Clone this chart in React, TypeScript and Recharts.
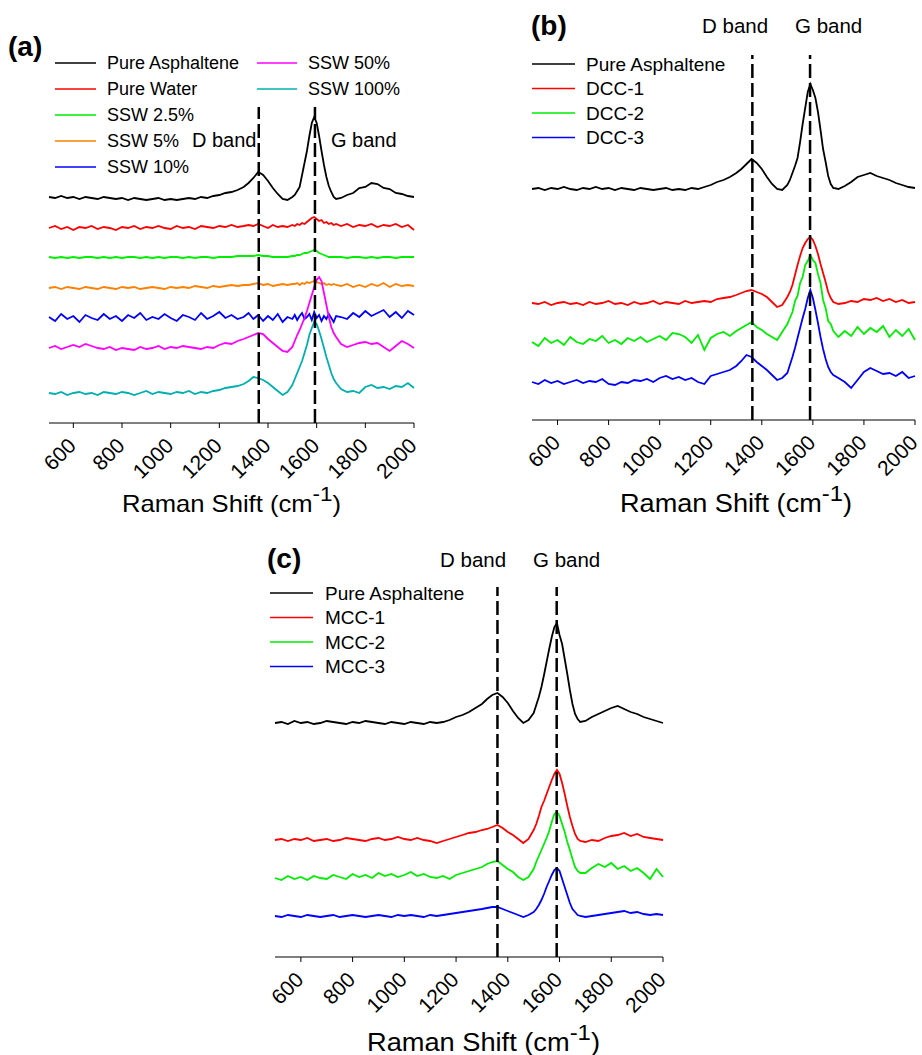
import React from 'react';
import { LineChart, Line, XAxis, YAxis, ReferenceLine } from 'recharts';

const FONT = '"Liberation Sans", Arial, Helvetica, sans-serif';

// Raman shift grid (cm-1): coarse on the flat part, finer over the D and G bands
const ramanShift = [
  500, 525, 550, 575, 600, 625, 650, 675, 700, 725, 750, 775, 800, 825, 850, 875, 900, 925, 950, 975,
  1000, 1025, 1050, 1075, 1100, 1125, 1150, 1175, 1200, 1225, 1250, 1275, 1300,
  1320, 1340, 1360, 1380, 1400, 1420, 1440, 1460, 1480, 1500,
  1510, 1520, 1530, 1540, 1550, 1560, 1570, 1580, 1590, 1600, 1610, 1620, 1630, 1640, 1650, 1660, 1670, 1680,
  1700, 1725, 1750, 1775, 1800, 1825, 1850, 1875, 1900, 1925, 1950, 1975, 2000,
];
const shiftTicks = [600, 800, 1000, 1200, 1400, 1600, 1800, 2000];

// ---- panel (a): stacked intensities (a.u.)
const asphaltA = [
  226, 225, 227, 225, 226, 224, 226, 225, 224, 226, 225, 224, 225, 223, 225, 224, 223, 224, 225, 223, 224, 223, 224, 225, 224, 226, 225, 227, 228, 230, 231, 233, 236,
  240, 245, 251, 248, 242, 235, 229, 224, 223, 226,
  228, 232, 236, 248, 260, 272, 287, 300, 306, 300, 287, 272, 258, 246, 237, 231, 226, 224,
  225, 228, 230, 235, 236, 240, 239, 235, 234, 230, 229, 227, 226,
];
const waterA = [
  195, 197, 194, 196, 193, 196, 195, 197, 194, 196, 195, 193, 196, 195, 197, 194, 196, 195, 197, 195, 194, 197, 195, 196, 194, 197, 196, 195, 197, 196, 198, 196, 197,
  198, 197, 199, 197, 195, 198, 196, 197, 196, 198,
  197, 199, 198, 200, 199, 201, 203, 205, 206, 204, 202, 203, 200, 201, 199, 200, 198, 199,
  197, 199, 196, 198, 197, 199, 196, 198, 197, 199, 196, 198, 193,
];
const ssw2_5 = [
  166, 165, 166, 165, 166, 165, 166, 166, 165, 166, 165, 166, 165, 166, 166, 165, 166, 165, 166, 165, 166, 166, 165, 166, 165, 166, 166, 165, 166, 166, 166, 167, 167,
  167, 167, 168, 167, 167, 166, 166, 166, 166, 167,
  167, 168, 168, 169, 170, 170, 171, 172, 173, 172, 170, 169, 168, 167, 166, 166, 166, 166,
  166, 165, 166, 166, 165, 166, 165, 166, 166, 165, 166, 166, 166,
];
const ssw5 = [
  135, 136, 134, 136, 135, 134, 136, 135, 134, 136, 135, 134, 136, 135, 136, 134, 135, 136, 135, 134, 136, 135, 136, 135, 137, 136, 135, 137, 136, 137, 138, 137, 138,
  138, 139, 140, 138, 139, 137, 138, 139, 138, 139,
  139, 140, 138, 140, 139, 141, 140, 141, 142, 141, 140, 139, 140, 138, 139, 138, 139, 138,
  137, 139, 136, 138, 136, 139, 137, 140, 136, 139, 137, 138, 137,
];
const ssw10 = [
  106, 102, 109, 104, 107, 101, 108, 105, 103, 109, 104, 107, 102, 108, 105, 110, 103, 106, 104, 109, 105, 102, 108, 106, 103, 110, 104, 107, 111, 105, 108, 104, 106,
  110, 104, 108, 102, 107, 103, 109, 101, 106, 104,
  108, 103, 107, 110, 104, 106, 109, 103, 111, 105, 108, 102, 107, 104, 109, 105, 101, 107,
  106, 104, 110, 106, 112, 107, 110, 113, 106, 111, 105, 112, 108,
];
const ssw50 = [
  75, 77, 74, 76, 78, 76, 79, 77, 75, 74, 76, 73, 75, 74, 73, 76, 74, 75, 77, 74, 76, 75, 77, 76, 75, 74, 76, 75, 78, 80, 79, 82, 84,
  86, 88, 90, 89, 84, 80, 76, 72, 71, 76,
  82, 88, 93, 99, 105, 112, 120, 128, 136, 143, 146, 142, 130, 118, 106, 96, 90, 86,
  79, 76, 78, 80, 81, 79, 80, 76, 72, 77, 82, 79, 75,
];
const ssw100 = [
  30, 29, 31, 28, 30, 31, 29, 30, 28, 31, 30, 29, 31, 30, 28, 30, 32, 29, 31, 30, 29, 31, 30, 32, 29, 31, 30, 32, 33, 35, 36, 37, 39,
  42, 46, 45, 43, 40, 36, 32, 28, 31, 38,
  44, 50, 56, 62, 70, 78, 88, 95, 101, 99, 92, 84, 75, 66, 58, 50, 44, 40,
  34, 31, 32, 30, 36, 38, 35, 36, 34, 37, 36, 40, 35,
];

// ---- panel (b)
const asphaltB = [
  231, 232, 230, 232, 231, 233, 231, 230, 232, 231, 233, 231, 232, 230, 232, 231, 230, 232, 231, 230, 231, 232, 230, 231, 230, 232, 231, 233, 235, 238, 240, 243, 247,
  251, 256, 261, 257, 251, 243, 236, 231, 230, 235,
  240, 247, 254, 262, 278, 296, 312, 328, 336, 330, 322, 308, 290, 271, 258, 244, 236, 232,
  231, 234, 238, 243, 245, 247, 244, 242, 240, 237, 235, 233, 232,
];
const dcc1 = [
  117, 116, 118, 115, 117, 118, 116, 117, 115, 118, 116, 117, 119, 116, 117, 115, 118, 116, 117, 119, 116, 118, 117, 116, 119, 117, 118, 119, 118, 121, 122, 123, 125,
  127, 129, 130, 128, 126, 123, 118, 113, 115, 123,
  128, 135, 145, 155, 164, 172, 177, 181, 183, 180, 174, 166, 156, 147, 138, 128, 122, 118,
  116, 117, 119, 118, 121, 120, 122, 119, 121, 118, 120, 117, 118,
];
const dcc2 = [
  78, 74, 82, 77, 80, 75, 83, 78, 76, 81, 79, 84, 77, 80, 76, 82, 79, 83, 78, 81, 84, 80, 87, 86, 83, 77, 85, 70, 82, 86, 88, 84, 89,
  92, 95, 98, 93, 90, 86, 83, 80, 88, 96,
  102, 108, 119, 124, 137, 143, 155, 159, 165, 160, 157, 146, 137, 120, 112, 99, 96, 89,
  83, 89, 84, 93, 86, 92, 88, 94, 83, 90, 84, 91, 80,
];
const dcc3 = [
  38, 36, 40, 37, 39, 36, 38, 40, 37, 39, 38, 41, 36, 35, 38, 37, 40, 39, 41, 38, 42, 44, 41, 43, 40, 42, 38, 36, 44, 46, 48, 50, 54,
  59, 65, 63, 58, 54, 50, 45, 40, 42, 47,
  55, 63, 72, 82, 92, 102, 111, 122, 130, 122, 110, 97, 83, 71, 61, 53, 48, 45,
  42, 38, 32, 40, 48, 52, 49, 46, 47, 44, 48, 42, 44,
];

// ---- panel (c)
const asphaltC = [
  234, 235, 233, 236, 234, 235, 233, 234, 236, 235, 234, 233, 235, 234, 236, 235, 234, 233, 235, 234, 233, 235, 234, 233, 235, 234, 235, 237, 240, 242, 245, 249, 253,
  258, 262, 264, 260, 254, 246, 239, 234, 237, 244,
  252, 260, 270, 282, 295, 308, 320, 330, 334, 322, 313, 298, 283, 267, 253, 243, 238, 235,
  236, 240, 243, 246, 249, 251, 248, 245, 243, 240, 238, 236, 234,
];
const mcc1 = [
  117, 118, 116, 118, 117, 119, 116, 117, 118, 116, 117, 119, 118, 117, 116, 118, 119, 117, 118, 120, 118, 117, 119, 117, 116, 114, 116, 118, 120, 122, 124, 125, 127,
  128, 130, 132, 129, 125, 122, 118, 114, 118, 127,
  133, 141, 150, 156, 163, 170, 177, 183, 187, 183, 174, 163, 151, 140, 131, 123, 118, 116,
  115, 117, 116, 119, 121, 122, 124, 121, 123, 120, 119, 118, 117,
];
const mcc2 = [
  79, 77, 81, 78, 80, 77, 81, 79, 78, 82, 80, 78, 83, 80, 82, 79, 84, 81, 83, 80, 82, 85, 81, 83, 80, 79, 81, 78, 82, 84, 86, 88, 90,
  93, 95, 96, 92, 88, 85, 80, 77, 80, 88,
  95, 101, 107, 113, 119, 126, 135, 143, 145, 141, 133, 125, 115, 107, 98, 90, 86, 84,
  84, 89, 93, 90, 94, 88, 91, 86, 89, 84, 78, 88, 80,
];
const mcc3 = [
  41, 40, 42, 41, 40, 42, 41, 40, 41, 42, 40, 41, 42, 41, 40, 41, 42, 41, 40, 42, 41, 42, 41, 40, 42, 41, 42, 43, 44, 45, 46, 47, 48,
  49, 50, 50, 48, 46, 44, 42, 40, 42, 45,
  48, 52, 57, 63, 70, 76, 82, 87, 89, 86, 78, 70, 62, 54, 48, 45, 42, 41,
  40, 41, 42, 43, 44, 45, 46, 44, 45, 43, 42, 43, 42,
];

// band positions (cm-1) for panels a, b, c
const dBandShift = [1362, 1363, 1360];
const gBandShift = [1593, 1589, 1589];

type Series = { key: string; name: string; color: string; values: number[] };

const seriesA: Series[] = [
  { key: 'asph', name: 'Pure Asphaltene', color: '#000000', values: asphaltA },
  { key: 'water', name: 'Pure Water', color: '#ff0000', values: waterA },
  { key: 's25', name: 'SSW 2.5%', color: '#00ee00', values: ssw2_5 },
  { key: 's5', name: 'SSW 5%', color: '#ff8000', values: ssw5 },
  { key: 's10', name: 'SSW 10%', color: '#0000ff', values: ssw10 },
  { key: 's50', name: 'SSW 50%', color: '#ff00ff', values: ssw50 },
  { key: 's100', name: 'SSW 100%', color: '#00b0b0', values: ssw100 },
];
const seriesB: Series[] = [
  { key: 'asph', name: 'Pure Asphaltene', color: '#000000', values: asphaltB },
  { key: 'd1', name: 'DCC-1', color: '#ff0000', values: dcc1 },
  { key: 'd2', name: 'DCC-2', color: '#00ee00', values: dcc2 },
  { key: 'd3', name: 'DCC-3', color: '#0000ff', values: dcc3 },
];
const seriesC: Series[] = [
  { key: 'asph', name: 'Pure Asphaltene', color: '#000000', values: asphaltC },
  { key: 'm1', name: 'MCC-1', color: '#ff0000', values: mcc1 },
  { key: 'm2', name: 'MCC-2', color: '#00ee00', values: mcc2 },
  { key: 'm3', name: 'MCC-3', color: '#0000ff', values: mcc3 },
];

function buildRows(series: Series[]) {
  return ramanShift.map((x, i) => {
    const row: Record<string, number> = { x };
    series.forEach(s => { row[s.key] = s.values[i]; });
    return row;
  });
}

const ShiftTick = ({ x, y, payload }: any) => {
  const px = x + 4;
  const py = y + 19;
  return (
    <text x={px} y={py} textAnchor="end" transform={`rotate(-45, ${px}, ${py})`}
      fontSize={21} fontFamily={FONT} fill="#000">
      {payload.value}
    </text>
  );
};

interface PanelProps {
  left: number;
  top: number;
  width: number;
  height: number;
  margin: { top: number; left: number; right: number };
  axisHeight: number;
  yMax: number;
  series: Series[];
  dBand: number;
  gBand: number;
}

const SpectraPanel: React.FC<PanelProps> = ({ left, top, width, height, margin, axisHeight, yMax, series, dBand, gBand }) => {
  const rows = buildRows(series);
  return (
    <div style={{ position: 'absolute', left, top, width, height }}>
      <LineChart width={width} height={height} data={rows}
        margin={{ top: margin.top, left: margin.left, right: margin.right, bottom: 0 }}>
        <XAxis type="number" dataKey="x" domain={[500, 2000]} ticks={shiftTicks} interval={0}
          height={axisHeight} tickSize={5} tickMargin={0}
          axisLine={{ stroke: '#000', strokeWidth: 1 }} tickLine={{ stroke: '#000' }}
          tick={<ShiftTick />} />
        <YAxis type="number" domain={[0, yMax]} hide />
        {series.map(s => (
          <Line key={s.key} type="linear" dataKey={s.key} stroke={s.color} strokeWidth={1.8}
            dot={false} activeDot={false} isAnimationActive={false} />
        ))}
        <ReferenceLine x={dBand} stroke="#000" strokeWidth={2.5} strokeDasharray="14 5" />
        <ReferenceLine x={gBand} stroke="#000" strokeWidth={2.5} strokeDasharray="14 5" />
      </LineChart>
    </div>
  );
};

const LegendBlock = ({ items, x1, x2, tx, y0, step, size }: {
  items: Series[]; x1: number; x2: number; tx: number; y0: number; step: number; size: number;
}) => (
  <g>
    {items.map((s, i) => {
      const y = y0 + step * i;
      return (
        <g key={s.key}>
          <line x1={x1} x2={x2} y1={y} y2={y} stroke={s.color} strokeWidth={1.5} />
          <text x={tx} y={y + size * 0.36} fontSize={size} fontFamily={FONT} fill="#000">{s.name}</text>
        </g>
      );
    })}
  </g>
);

const AxisTitle = ({ x, y, size, length }: { x: number; y: number; size: number; length: number }) => (
  <text x={x} y={y} fontSize={size} fontFamily={FONT} fill="#000" textLength={length} lengthAdjust="spacingAndGlyphs">
    Raman Shift (cm
    <tspan dy={-11} fontSize={size - 3}>-1</tspan>
    <tspan dy={11} fontSize={size}>)</tspan>
  </text>
);

export default function App() {
  return (
    <div style={{ position: 'absolute', left: 0, top: 0, width: 922, height: 1055, background: '#fff', overflow: 'hidden' }}>
      <SpectraPanel left={0} top={0} width={430} height={520}
        margin={{ top: 107, left: 49, right: 16 }} axisHeight={97} yMax={316}
        series={seriesA} dBand={dBandShift[0]} gBand={gBandShift[0]} />
      <SpectraPanel left={520} top={0} width={402} height={520}
        margin={{ top: 55, left: 12, right: 7 }} axisHeight={100} yMax={365}
        series={seriesB} dBand={dBandShift[1]} gBand={gBandShift[1]} />
      <SpectraPanel left={260} top={530} width={420} height={525}
        margin={{ top: 57, left: 15, right: 17 }} axisHeight={98} yMax={370}
        series={seriesC} dBand={dBandShift[2]} gBand={gBandShift[2]} />

      <svg width={922} height={1055} style={{ position: 'absolute', left: 0, top: 0, pointerEvents: 'none' }}>
        {/* panel (a) */}
        <text x={8} y={56} fontSize={28} fontWeight="bold" fontFamily={FONT}>(a)</text>
        <LegendBlock items={seriesA.slice(0, 5)} x1={55} x2={96} tx={107} y0={63} step={26} size={18} />
        <LegendBlock items={seriesA.slice(5)} x1={257} x2={297} tx={308} y0={63} step={26} size={18} />
        <text x={192} y={147} fontSize={20} fontFamily={FONT}>D band</text>
        <text x={331} y={147} fontSize={20} fontFamily={FONT}>G band</text>
        <AxisTitle x={122} y={512} size={24} length={219} />

        {/* panel (b) */}
        <text x={531} y={35} fontSize={28} fontWeight="bold" fontFamily={FONT}>(b)</text>
        <LegendBlock items={seriesB} x1={532} x2={575} tx={586} y0={64} step={24.5} size={19} />
        <text x={702} y={33} fontSize={20.5} fontFamily={FONT}>D band</text>
        <text x={795} y={33} fontSize={20.5} fontFamily={FONT}>G band</text>
        <AxisTitle x={620} y={512} size={25} length={232} />

        {/* panel (c) */}
        <text x={267} y={568} fontSize={28} fontWeight="bold" fontFamily={FONT}>(c)</text>
        <LegendBlock items={seriesC} x1={270} x2={313} tx={325} y0={593} step={24.5} size={19} />
        <text x={440} y={567} fontSize={20.5} fontFamily={FONT}>D band</text>
        <text x={533} y={567} fontSize={20.5} fontFamily={FONT}>G band</text>
        <AxisTitle x={367} y={1051} size={25} length={233} />
      </svg>
    </div>
  );
}
